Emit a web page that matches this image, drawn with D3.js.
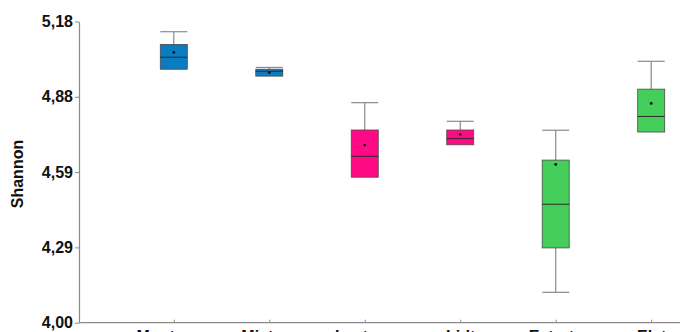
<!DOCTYPE html>
<html><head><meta charset="utf-8">
<script src="https://cdn.jsdelivr.net/npm/d3@7"></script>
<style>body{margin:0;background:#fff}svg{display:block}</style>
</head><body>
<script>
const categories = ["Montagne","Mistura","Lactose","Lidt","Extrato","Elat"];
const whiskerHigh = [5.140, 5.000, 4.862, 4.789, 4.754, 5.024];
const q3 =          [5.090, 4.993, 4.755, 4.755, 4.637, 4.915];
const median =      [5.040, 4.985, 4.652, 4.721, 4.464, 4.808];
const q1 =          [4.993, 4.966, 4.570, 4.697, 4.293, 4.747];
const whiskerLow =  [4.993, 4.966, 4.570, 4.697, 4.119, 4.747];
const means =       [5.059, 4.980, 4.696, 4.738, 4.620, 4.859];
const colors = ["#0a7cc2","#0a7cc2","#ff0a85","#ff0a85","#45cf5a","#45cf5a"];
const yTicks = [4.00, 4.295, 4.59, 4.885, 5.18];
const yTickLabels = ["4,00","4,29","4,59","4,88","5,18"];
const yLabel = "Shannon";

const W = 680, H = 332;
const svg = d3.select("body").append("svg").attr("width", W).attr("height", H);
const y = d3.scaleLinear().domain([4.0, 5.18]).range([322.7, 21.5]);
const x = d3.scalePoint().domain(categories).range([173.8, 651.2]);
const bw = 27;

// y axis
const yAxis = d3.axisLeft(y).tickValues(yTicks).tickSize(4).tickSizeOuter(0)
  .tickFormat((d,i) => yTickLabels[i]);
const gy = svg.append("g").attr("transform","translate(79,0)").call(yAxis);
gy.select(".domain").attr("stroke","#8a8a8a").attr("stroke-width",1.2);
gy.selectAll(".tick line").attr("stroke","#8a8a8a");
gy.selectAll(".tick text").attr("font-family","Liberation Sans, Arial, sans-serif")
  .attr("font-weight","bold").attr("font-size","16px").attr("fill","#111").attr("x",-6);

// x axis
const xAxis = d3.axisBottom(x).tickSize(3).tickSizeOuter(0).tickPadding(5);
const gx = svg.append("g").attr("transform","translate(0,322.7)").call(xAxis);
gx.select(".domain").attr("d","M79,0H680").attr("stroke","#8a8a8a").attr("stroke-width",1.2);
gx.selectAll(".tick line").attr("stroke","#8a8a8a").attr("y1",-3).attr("y2",0);
gx.selectAll(".tick text").attr("font-family","Liberation Sans, Arial, sans-serif")
  .attr("font-weight","bold").attr("font-size","16px").attr("fill","#111").attr("dy","0.71em");

// y label
svg.append("text").attr("transform","translate(23,174) rotate(-90)")
  .attr("text-anchor","middle").attr("font-family","Liberation Sans, Arial, sans-serif")
  .attr("font-weight","bold").attr("font-size","16px").attr("fill","#111").text(yLabel);

const g = svg.append("g");
categories.forEach((c,i) => {
  const cx = x(c);
  g.append("line").attr("x1",cx).attr("x2",cx).attr("y1",y(whiskerHigh[i])).attr("y2",y(q3[i]))
    .attr("stroke","#8a8a8a").attr("stroke-width",1.2);
  g.append("line").attr("x1",cx-bw/2).attr("x2",cx+bw/2).attr("y1",y(whiskerHigh[i])).attr("y2",y(whiskerHigh[i]))
    .attr("stroke","#8a8a8a").attr("stroke-width",1.2);
  if (whiskerLow[i] < q1[i]) {
    g.append("line").attr("x1",cx).attr("x2",cx).attr("y1",y(q1[i])).attr("y2",y(whiskerLow[i]))
      .attr("stroke","#8a8a8a").attr("stroke-width",1.2);
    g.append("line").attr("x1",cx-bw/2).attr("x2",cx+bw/2).attr("y1",y(whiskerLow[i])).attr("y2",y(whiskerLow[i]))
      .attr("stroke","#8a8a8a").attr("stroke-width",1.2);
  }
  g.append("rect").attr("x",cx-bw/2).attr("width",bw).attr("y",y(q3[i])).attr("height",y(q1[i])-y(q3[i]))
    .attr("fill",colors[i]).attr("stroke","#4a4a4a").attr("stroke-width",0.8);
  g.append("line").attr("x1",cx-bw/2).attr("x2",cx+bw/2).attr("y1",y(median[i])).attr("y2",y(median[i]))
    .attr("stroke","#2a2a2a").attr("stroke-width",1);
  g.append("circle").attr("cx",cx).attr("cy",y(means[i])).attr("r",1.4).attr("fill","#111");
});
</script>
</body></html>
